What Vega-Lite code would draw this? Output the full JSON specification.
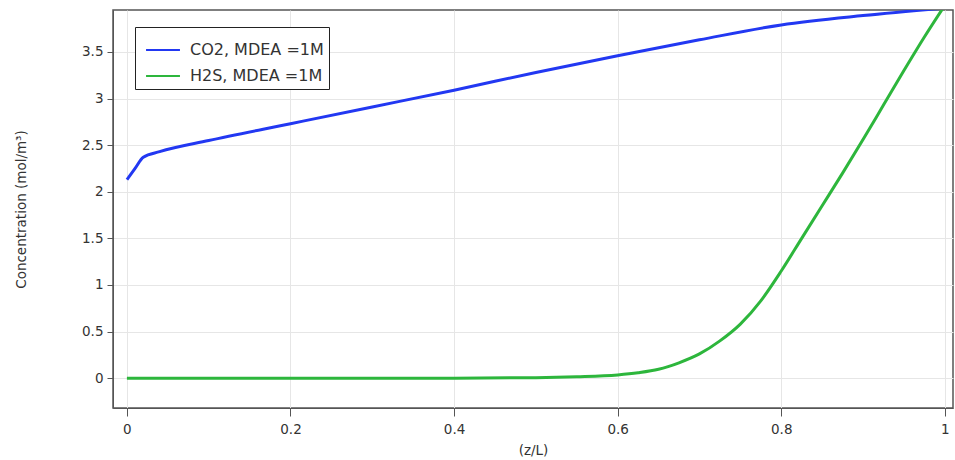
{
  "$schema": "https://vega.github.io/schema/vega-lite/v6.json",
  "autosize": "none",
  "width": 840,
  "height": 398,
  "padding": {"left": 113, "top": 10, "right": 2, "bottom": 52},
  "background": "white",
  "config": {
    "font": "DejaVu Sans",
    "view": {"stroke": "#555555", "strokeWidth": 1.5},
    "axis": {"labelColor": "#333333", "titleColor": "#333333", "labelFontSize": 13.5, "titleFontSize": 13.5, "titleFontWeight": "normal", "gridColor": "#e6e6e6", "domainColor": "#555555", "tickColor": "#555555"}
  },
  "data": {"values": [
    {"x": 0, "y": 2.13, "s": "CO2, MDEA =1M"},
    {"x": 0.01, "y": 2.25, "s": "CO2, MDEA =1M"},
    {"x": 0.02, "y": 2.37, "s": "CO2, MDEA =1M"},
    {"x": 0.04, "y": 2.43, "s": "CO2, MDEA =1M"},
    {"x": 0.1, "y": 2.55, "s": "CO2, MDEA =1M"},
    {"x": 0.2, "y": 2.73, "s": "CO2, MDEA =1M"},
    {"x": 0.3, "y": 2.91, "s": "CO2, MDEA =1M"},
    {"x": 0.4, "y": 3.09, "s": "CO2, MDEA =1M"},
    {"x": 0.5, "y": 3.28, "s": "CO2, MDEA =1M"},
    {"x": 0.6, "y": 3.46, "s": "CO2, MDEA =1M"},
    {"x": 0.7, "y": 3.63, "s": "CO2, MDEA =1M"},
    {"x": 0.8, "y": 3.79, "s": "CO2, MDEA =1M"},
    {"x": 0.9, "y": 3.89, "s": "CO2, MDEA =1M"},
    {"x": 1.0, "y": 3.97, "s": "CO2, MDEA =1M"},
    {"x": 0, "y": 0, "s": "H2S, MDEA =1M"},
    {"x": 0.4, "y": 0, "s": "H2S, MDEA =1M"},
    {"x": 0.5, "y": 0.005, "s": "H2S, MDEA =1M"},
    {"x": 0.55, "y": 0.015, "s": "H2S, MDEA =1M"},
    {"x": 0.6, "y": 0.035, "s": "H2S, MDEA =1M"},
    {"x": 0.625, "y": 0.058, "s": "H2S, MDEA =1M"},
    {"x": 0.65, "y": 0.095, "s": "H2S, MDEA =1M"},
    {"x": 0.675, "y": 0.165, "s": "H2S, MDEA =1M"},
    {"x": 0.7, "y": 0.26, "s": "H2S, MDEA =1M"},
    {"x": 0.725, "y": 0.4, "s": "H2S, MDEA =1M"},
    {"x": 0.75, "y": 0.58, "s": "H2S, MDEA =1M"},
    {"x": 0.775, "y": 0.83, "s": "H2S, MDEA =1M"},
    {"x": 0.8, "y": 1.15, "s": "H2S, MDEA =1M"},
    {"x": 0.825, "y": 1.5, "s": "H2S, MDEA =1M"},
    {"x": 0.85, "y": 1.85, "s": "H2S, MDEA =1M"},
    {"x": 0.875, "y": 2.2, "s": "H2S, MDEA =1M"},
    {"x": 0.9, "y": 2.56, "s": "H2S, MDEA =1M"},
    {"x": 0.925, "y": 2.93, "s": "H2S, MDEA =1M"},
    {"x": 0.95, "y": 3.3, "s": "H2S, MDEA =1M"},
    {"x": 0.975, "y": 3.66, "s": "H2S, MDEA =1M"},
    {"x": 1.0, "y": 4.0, "s": "H2S, MDEA =1M"}
  ]},
  "mark": {"type": "line", "strokeWidth": 3, "clip": true, "interpolate": "monotone"},
  "encoding": {
    "x": {"field": "x", "type": "quantitative", "title": "(z/L)",
      "scale": {"domain": [-0.017, 1.01], "nice": false, "zero": false},
      "axis": {"values": [0, 0.2, 0.4, 0.6, 0.8, 1], "format": "~g", "tickSize": 8, "labelPadding": 6, "titlePadding": 8}},
    "y": {"field": "y", "type": "quantitative", "title": "Concentration (mol/m³)",
      "scale": {"domain": [-0.32, 3.95], "nice": false, "zero": false},
      "axis": {"values": [0, 0.5, 1, 1.5, 2, 2.5, 3, 3.5], "format": "~g", "tickSize": 6, "labelPadding": 4, "titlePadding": 53}},
    "color": {"field": "s", "type": "nominal", "title": null,
      "scale": {"domain": ["CO2, MDEA =1M", "H2S, MDEA =1M"], "range": ["#2238f2", "#2db63c"]},
      "legend": {"orient": "none", "legendX": 22, "legendY": 17, "strokeColor": "#222222", "fillColor": "white", "padding": 5, "symbolOffset": 5, "symbolType": "stroke", "symbolStrokeWidth": 2, "symbolSize": 1150, "labelFontSize": 16, "labelColor": "#333333", "labelOffset": 9, "rowPadding": -2}}
  }
}
